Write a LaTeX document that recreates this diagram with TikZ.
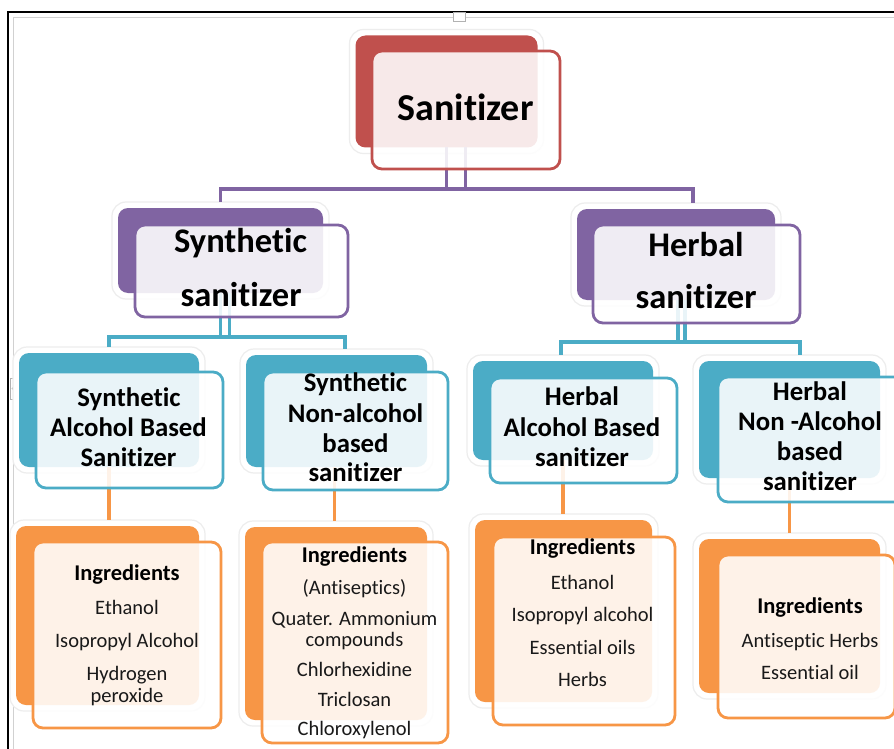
\documentclass[tikz,border=0pt]{standalone}
\usepackage{fontspec}
\setmainfont{Carlito}[Ligatures=NoCommon]
\usetikzlibrary{calc}
\definecolor{cred}{HTML}{C0504D}
\definecolor{cpur}{HTML}{8064A2}
\definecolor{cteal}{HTML}{4BACC6}
\definecolor{corg}{HTML}{F79646}
\tikzset{
  glowbox/.style={fill=white, draw=black!7, line width=1.2pt, rounded corners=14pt, inner sep=0pt, outer sep=0pt},
  backbox/.style={draw=none, rounded corners=10pt, inner sep=0pt, outer sep=0pt},
  frontbox/.style={fill=white, fill opacity=0.88, line width=2.8pt, rounded corners=10pt, inner sep=0pt, outer sep=0pt},
  pl/.style={draw=cpur, line width=3.2pt},
  tl/.style={draw=cteal, line width=3.2pt},
  ol/.style={draw=corg, line width=3.2pt},
  ttop/.style={font=\fontsize{38}{44}\selectfont\bfseries, anchor=base, inner sep=0pt},
  tmid/.style={font=\fontsize{34.5}{40}\selectfont\bfseries, anchor=base, inner sep=0pt},
  tlow/.style={font=\fontsize{26.8}{30}\selectfont\bfseries, anchor=base, inner sep=0pt},
  ting/.style={font=\fontsize{22.5}{26}\selectfont\bfseries, anchor=base, inner sep=0pt},
  titem/.style={font=\fontsize{20.5}{24}\selectfont, anchor=base, inner sep=0pt, text=black!90},
}
\newcommand\backbox[6]{%
  \node[glowbox, minimum width=#4pt+12pt, minimum height=#5pt+12pt] (#1g) at (#2,#3) {};
  \node[backbox, fill=#6, minimum width=#4pt, minimum height=#5pt] (#1) at (#2,#3) {};}
\newcommand\frontbox[6]{%
  \node[frontbox, draw=#6, minimum width=#4pt, minimum height=#5pt] (#1) at (#2,#3) {};}
\begin{document}
\begin{tikzpicture}[x=1pt, y=-1pt]
\useasboundingbox (0,0) rectangle (894,749);
\fill[white] (0,0) rectangle (894,749);
\clip (0,0) rectangle (894,749);
% window frame
\draw[black!18, line width=1pt] (13.5,749) -- (13.5,17.5) -- (894,17.5);
\draw[black, line width=2pt] (8,749) -- (8,12) -- (894,12);
\node[draw=black!30, fill=white, line width=0.6pt, minimum width=12pt, minimum height=9pt, inner sep=0pt] (htop) at (459,16.5) {};
\node[draw=black!30, fill=white, line width=0.6pt, minimum width=13pt, minimum height=21pt, inner sep=0pt] (hleft) at (16.5,388.5) {};
\draw[black!45, line width=1.2pt] (15,385.5) -- (12.5,388.5) -- (15,391.5);
% back boxes
\backbox{S0b}{446.5}{91.5}{182}{112}{cred}
\backbox{S1b}{220.5}{250.5}{205}{85}{cpur}
\backbox{S2b}{676}{254.5}{198}{91}{cpur}
\backbox{Ab}{109}{410}{180}{114}{cteal}
\backbox{Bb}{336.5}{411}{181}{112}{cteal}
\backbox{Cb}{563}{410.5}{180}{99}{cteal}
\backbox{Db}{789.5}{419.5}{181}{117}{cteal}
\backbox{Eb}{107.5}{615.5}{183}{179}{corg}
\backbox{Fb}{336}{623.5}{182}{193}{corg}
\backbox{Gb}{563.5}{611}{177}{182}{corg}
\backbox{Hb}{789.5}{616}{181}{154}{corg}
% connectors
\draw[pl] (S0b.south) -- (S0b.south |- 0,189) -| ($(S2bg.north)+(17,0)$);
\draw[pl] ($(S0b.south)+(19,0)$) -- ++(0,41.5) -| (S1bg.north);
\draw[tl] (S1b.south) -- (S1b.south |- 0,337) -| ($(Bbg.north)+(8.5,0)$);
\draw[tl] ($(S1b.south)+(9,0)$) -- ++(0,44) -| (Abg.north);
\draw[tl] ($(S2b.south)+(2,0)$) -- ++(0,42) -| ($(Dbg.north)+(10.5,0)$);
\draw[tl] ($(S2b.south)+(9,0)$) -- ++(0,42) -| ($(Cbg.north)+(-2,0)$);
\draw[ol] (Ab.south) -- (Ab.south |- Ebg.north);
\draw[ol] ($(Bb.south)+(-2,0)$) -- ($(Bb.south |- Fbg.north)+(-2,0)$);
\draw[ol] (Cb.south) -- (Cb.south |- Gbg.north);
\draw[ol] (Db.south) -- (Db.south |- Hbg.north);
% front boxes
\frontbox{S0f}{466}{110}{188}{118}{cred}
\frontbox{S1f}{241.5}{271}{213}{92}{cpur}
\frontbox{S2f}{696.5}{274}{207}{98}{cpur}
\frontbox{Af}{129.5}{430}{187}{116}{cteal}
\frontbox{Bf}{355.5}{431}{185}{118}{cteal}
\frontbox{Cf}{583.5}{430.5}{187}{105}{cteal}
\frontbox{Df}{811.5}{439.5}{187}{125}{cteal}
\frontbox{Ef}{127}{635}{188}{186}{corg}
\frontbox{Ff}{355}{642.5}{186}{201}{corg}
\frontbox{Gf}{584}{631}{182}{188}{corg}
\frontbox{Hf}{806.5}{636.5}{177}{163}{corg}
% texts
\node[ttop] (S0t) at (465.5,120.7) {Sanitizer};
\node[tmid] (S1t1) at (240.5,252.7) {Synthetic};
\node[tmid] (S1t2) at (241,306) {sanitizer};
\node[tmid] (S2t1) at (696,256) {Herbal};
\node[tmid] (S2t2) at (696,308.3) {sanitizer};
\node[tlow] (At1) at (129,406) {Synthetic};
\node[tlow] (At2) at (128.5,436.7) {Alcohol Based};
\node[tlow] (At3) at (128.5,466.7) {Sanitizer};
\node[tlow] (Bt1) at (355.5,391.7) {Synthetic};
\node[tlow] (Bt2) at (355.5,422.3) {Non-alcohol};
\node[tlow] (Bt3) at (355.5,452.3) {based};
\node[tlow] (Bt4) at (355.5,481.7) {sanitizer};
\node[tlow] (Ct1) at (582,405.7) {Herbal};
\node[tlow] (Ct2) at (582,436.7) {Alcohol Based};
\node[tlow] (Ct3) at (582,466.7) {sanitizer};
\node[tlow] (Dt1) at (810,400.7) {Herbal};
\node[tlow] (Dt2) at (810,430.7) {Non -Alcohol};
\node[tlow] (Dt3) at (810,460.7) {based};
\node[tlow] (Dt4) at (810,490) {sanitizer};
\node[ting] (Et1) at (127,580) {Ingredients};
\node[titem] (Et2) at (127,614.3) {Ethanol};
\node[titem] (Et3) at (127,647.3) {Isopropyl Alcohol};
\node[titem] (Et4) at (127,680) {Hydrogen};
\node[titem] (Et5) at (127,702.7) {peroxide};
\node[ting] (Ft1) at (354.5,562.7) {Ingredients};
\node[titem] (Ft2) at (354.5,594) {(Antiseptics)};
\node[titem] (Ft3) at (354.5,625) {Quater. Ammonium};
\node[titem] (Ft4) at (354.5,646) {compounds};
\node[titem] (Ft5) at (354.5,676.7) {Chlorhexidine};
\node[titem] (Ft6) at (354.5,706) {Triclosan};
\node[titem] (Ft7) at (354.5,735) {Chloroxylenol};
\node[ting] (Gt1) at (582.5,554) {Ingredients};
\node[titem] (Gt2) at (582.5,589) {Ethanol};
\node[titem] (Gt3) at (582.5,621.7) {Isopropyl alcohol};
\node[titem] (Gt4) at (582.5,654) {Essential oils};
\node[titem] (Gt5) at (582.5,686.7) {Herbs};
\node[ting] (Ht1) at (810,613.3) {Ingredients};
\node[titem] (Ht2) at (810,647.3) {Antiseptic Herbs};
\node[titem] (Ht3) at (810,679.3) {Essential oil};
\end{tikzpicture}
\end{document}
